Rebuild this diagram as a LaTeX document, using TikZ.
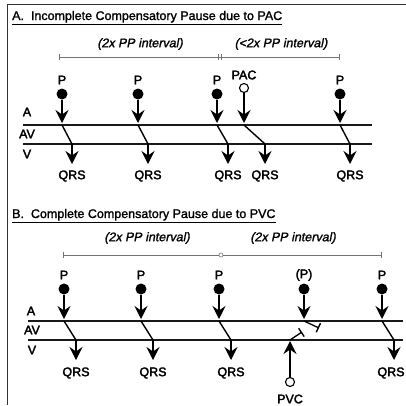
\documentclass[tikz,border=0pt]{standalone}
\usepackage{fontspec}
\setmainfont{Liberation Sans}
\newfontfamily\heavysans[FakeBold=2.5]{Liberation Sans}
\newfontfamily\titlesans[FakeBold=1.5]{Liberation Sans}
\newfontfamily\heavyital[FakeBold=1.5,FakeSlant=0.2]{Liberation Sans}
\usetikzlibrary{arrows.meta}
\begin{document}
\begin{tikzpicture}[x=1pt,y=-1pt,
  lbl/.style={font=\heavysans\fontsize{12.5}{14}\selectfont, inner sep=0pt},
  ilbl/.style={font=\heavyital\fontsize{12.5}{14}\selectfont, inner sep=0pt},
  ttl/.style={font=\titlesans\fontsize{12.5}{15}\selectfont, inner sep=0pt, anchor=base west},
  ladder/.style={line width=1.6pt, draw=black!90},
  pdot/.style={circle, fill=black, inner sep=0pt, minimum size=11pt},
  odot/.style={circle, draw=black, line width=1.1pt, fill=white, inner sep=0pt, minimum size=9pt},
  darr/.style={line width=1.4pt, -{Stealth[length=13pt,width=13pt,inset=4.5pt]}},
  cond/.style={line width=1.4pt},
  blk/.style={line width=1.3pt, -{Bar[width=10pt,line width=1.4pt]}},
  ival/.style={draw=black!55, line width=0.7pt},
  frame/.style={draw=black!80, line width=1pt},
]
\useasboundingbox (0,0) rectangle (406,405);
\draw[frame] (406,4) -- (7,4) -- (7,405);

% ---------------- Section A ----------------
\node[ttl] (titleA) at (12,20) {\underline{A.\ \ Incomplete Compensatory Pause due to PAC}};

\coordinate (iA1) at (59,57);
\coordinate (iA2) at (218,57);
\coordinate (iA3) at (221,57);
\coordinate (iA4) at (339,57);
\draw[ival] (iA1) -- (iA4);
\draw[ival] (iA1) ++(0,-3) -- ++(0,6);
\draw[ival] (iA2) ++(0,-3) -- ++(0,6);
\draw[ival] (iA3) ++(0,-3) -- ++(0,6);
\draw[ival] (iA4) ++(0,-3) -- ++(0,6);
\node[ilbl] (ilA1) at (140,44) {(2x PP interval)};
\node[ilbl] (ilA2) at (281,44) {(<2x PP interval)};

\coordinate (LA1) at (23,125);
\coordinate (LA2) at (372,125);
\coordinate (LV1) at (23,144);
\coordinate (LV2) at (372,144);
\draw[ladder] (LA1) -- (LA2);
\draw[ladder] (LV1) -- (LV2);
\node[lbl] (rowA1) at (27,112) {A};
\node[lbl] (rowA2) at (27,134) {AV};
\node[lbl] (rowA3) at (27,154) {V};

\foreach \i/\px/\vx in {1/62/72, 2/138/148, 3/217/228, 4/340/350} {
  \node[lbl] (pA\i) at (\px,80) {P};
  \node[pdot] (dA\i) at (\px,94) {};
  \coordinate (aA\i) at (\px,123);
  \coordinate (aS\i) at (\px,125);
  \coordinate (vA\i) at (\vx,144);
  \coordinate (tA\i) at (\vx,164);
  \node[lbl] (qA\i) at (\vx,176) {QRS};
  \draw[darr] (dA\i) -- (aA\i);
  \draw[cond] (aS\i) -- (vA\i);
  \draw[darr] (vA\i) -- (tA\i);
}
\node[lbl] (pacl) at (244,75) {PAC};
\node[odot] (pac) at (244,88) {};
\coordinate (aPAC) at (244,123);
\coordinate (sPAC) at (244,125);
\coordinate (vPAC) at (265,144);
\coordinate (tPAC) at (265,164);
\node[lbl] (qPAC) at (265,176) {QRS};
\draw[darr] (pac) -- (aPAC);
\draw[cond] (sPAC) -- (vPAC);
\draw[darr] (vPAC) -- (tPAC);

% ---------------- Section B ----------------
\node[ttl] (titleB) at (12,218) {\underline{B.\ \ Complete Compensatory Pause due to PVC}};

\coordinate (iB1) at (63,255);
\coordinate (iB2) at (221,255);
\coordinate (iB3) at (381,255);
\draw[ival] (iB1) -- (iB3);
\draw[ival] (iB1) ++(0,-3) -- ++(0,6);
\draw[ival] (iB3) ++(0,-3) -- ++(0,6);
\node[circle, draw=black!55, fill=white, line width=0.6pt, inner sep=0pt, minimum size=4pt] (iBc) at (iB2) {};
\node[ilbl] (ilB1) at (147,238) {(2x PP interval)};
\node[ilbl] (ilB2) at (293,238) {(2x PP interval)};

\coordinate (LB1) at (28,321);
\coordinate (LB2) at (403,321);
\coordinate (LB3) at (28,340);
\coordinate (LB4) at (403,340);
\draw[ladder] (LB1) -- (LB2);
\draw[ladder] (LB3) -- (LB4);
\node[lbl] (rowB1) at (31,311) {A};
\node[lbl] (rowB2) at (32,330) {AV};
\node[lbl] (rowB3) at (32,350) {V};

\foreach \i/\px/\vx/\qx in {1/64/76/76, 2/141/153/153, 3/219/231/231, 5/382/394/391} {
  \node[lbl] (pB\i) at (\px,275) {P};
  \node[pdot] (dB\i) at (\px,289) {};
  \coordinate (aB\i) at (\px,319);
  \coordinate (sB\i) at (\px,321);
  \coordinate (vB\i) at (\vx,340);
  \coordinate (tB\i) at (\vx,360);
  \node[lbl] (qB\i) at (\qx,373) {QRS};
  \draw[darr] (dB\i) -- (aB\i);
  \draw[cond] (sB\i) -- (vB\i);
  \draw[darr] (vB\i) -- (tB\i);
}
\node[lbl] (pB4) at (304,275) {(P)};
\node[pdot] (dB4) at (304,289) {};
\coordinate (aB4) at (304,319);
\coordinate (sB4) at (304,321);
\coordinate (bB4) at (319,328);
\draw[darr] (dB4) -- (aB4);
\draw[blk] (sB4) -- (bB4);

\node[odot] (pvc) at (290,382) {};
\node[lbl] (pvcl) at (290,399) {PVC};
\coordinate (vPVC) at (290,341);
\coordinate (sPVC) at (290,340);
\coordinate (bPVC) at (302,332);
\draw[darr] (pvc) -- (vPVC);
\draw[blk] (sPVC) -- (bPVC);
\end{tikzpicture}
\end{document}
